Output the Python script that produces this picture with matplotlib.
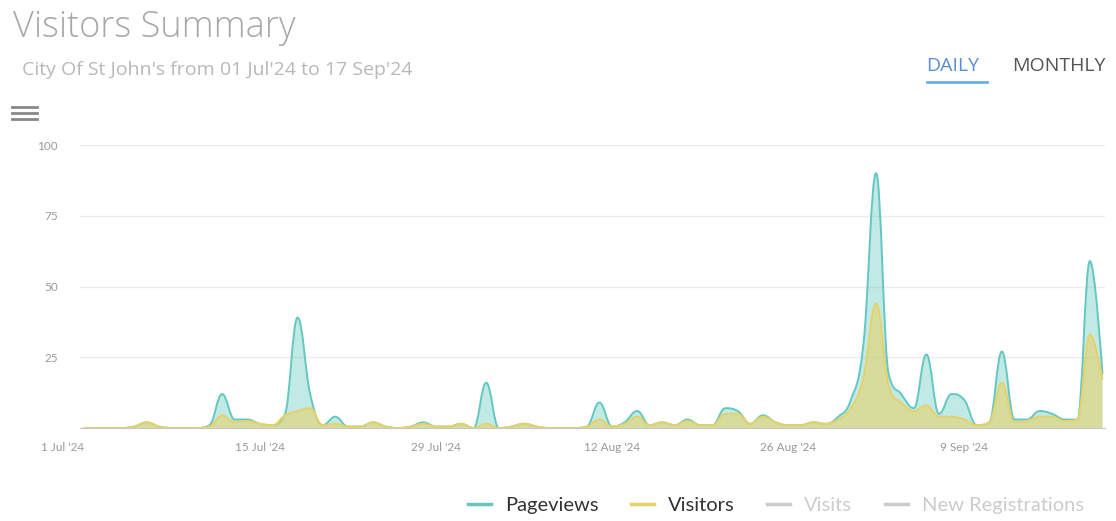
import numpy as np
import matplotlib
matplotlib.use('Agg')
import matplotlib.pyplot as plt
from matplotlib.path import Path
from matplotlib.patches import PathPatch
from matplotlib.lines import Line2D

# daily values, 1 Jul '24 .. 20 Sep '24
pageviews = [0, 0, 0, 0, 0.5, 2, 0.5, 0, 0, 0,
             1, 12, 3, 3, 1.5, 1, 5, 39, 12, 1,
             4, 0.5, 0.5, 2, 0.5, 0, 0.5, 2, 0.5, 0.5,
             1.5, 0, 16, 0, 0.5, 1.5, 0.5, 0, 0, 0,
             0.5, 9, 0.5, 2, 6, 1, 2, 1, 3, 1,
             1, 7, 6, 1.5, 4.5, 2, 1, 1, 2, 1.5,
             4, 10, 30, 90, 19, 12, 7, 26, 5, 12,
             10, 1, 2, 27, 3, 3, 6, 5, 3, 3,
             59, 19]
visitors = [0, 0, 0, 0, 0.5, 2, 0.5, 0, 0, 0,
            0.5, 4.5, 2, 2.5, 1.5, 1, 4.5, 6, 7, 1,
            1.5, 0.5, 0.5, 2, 0.5, 0, 0.5, 1.5, 0.5, 0.5,
            1.5, 0, 1.5, 0, 0.5, 1.5, 0.5, 0, 0, 0,
            0.5, 3, 0.5, 1.5, 4, 1, 2, 1, 2.5, 1,
            1, 5, 5, 1.5, 4, 2, 1, 1, 2, 1.5,
            3, 7, 18, 44, 15, 9, 6, 8, 4, 4,
            3, 1, 2, 16, 2, 2.5, 4, 4, 2.5, 3,
            33, 17]
tick_days = [0, 14, 28, 42, 56, 70]
tick_labels = ["1 Jul '24", "15 Jul '24", "29 Jul '24", "12 Aug '24", "26 Aug '24", "9 Sep '24"]
y_ticks = [25, 50, 75, 100]
legend_names = ['Pageviews', 'Visitors', 'Visits', 'New Registrations']

plt.rcParams['font.family'] = ['Lato', 'DejaVu Sans']


def spline_path(xs, ys, closed=False):
    # highcharts-like areaspline curve (smoothing 1.5)
    n = len(xs)
    sm, den = 1.5, 2.5
    lc = [None] * n
    rc = [None] * n
    for i in range(n):
        x, y = xs[i], ys[i]
        if i == 0 or i == n - 1:
            lc[i] = (x, y)
            rc[i] = (x, y)
            continue
        lx, ly = xs[i - 1], ys[i - 1]
        nx, ny = xs[i + 1], ys[i + 1]
        lcx = (sm * x + lx) / den
        lcy = (sm * y + ly) / den
        rcx = (sm * x + nx) / den
        rcy = (sm * y + ny) / den
        if rcx != lcx:
            corr = (rcy - lcy) * (rcx - x) / (rcx - lcx) + y - rcy
            lcy += corr
            rcy += corr
        if lcy > max(ly, y):
            lcy = max(ly, y); rcy = 2 * y - lcy
        elif lcy < min(ly, y):
            lcy = min(ly, y); rcy = 2 * y - lcy
        if rcy > max(ny, y):
            rcy = max(ny, y); lcy = 2 * y - rcy
        elif rcy < min(ny, y):
            rcy = min(ny, y); lcy = 2 * y - rcy
        lc[i] = (lcx, lcy)
        rc[i] = (rcx, rcy)
    verts = [(xs[0], ys[0])]
    codes = [Path.MOVETO]
    for i in range(1, n):
        verts += [rc[i - 1], lc[i], (xs[i], ys[i])]
        codes += [Path.CURVE4] * 3
    if closed:
        verts += [(xs[-1], 0), (xs[0], 0), (xs[0], ys[0])]
        codes += [Path.LINETO, Path.LINETO, Path.CLOSEPOLY]
    return Path(verts, codes)


fig = plt.figure(figsize=(11.16, 5.21), dpi=100)
ax = fig.add_axes([80 / 1116, 93 / 521, 1025 / 1116, 283 / 521])

days = np.arange(len(pageviews))
pv_col = '#64c8c0'
vis_col = '#e6d26a'
for vals, col, a in [(pageviews, pv_col, 0.4), (visitors, vis_col, 0.6)]:
    ax.add_patch(PathPatch(spline_path(days, vals, True), facecolor=col, alpha=a, lw=0))
    ax.add_patch(PathPatch(spline_path(days, vals), facecolor='none', edgecolor=col, lw=1.4))

ax.set_xlim(-0.3, 81.2)
ax.set_ylim(0, 100)
for s in ['top', 'right', 'left']:
    ax.spines[s].set_visible(False)
ax.spines['bottom'].set_color('#c8c8c8')
ax.set_yticks(y_ticks)
ax.set_yticklabels([str(v) for v in y_ticks])
ax.set_xticks(tick_days)
ax.set_xticklabels(tick_labels)
ax.get_xticklabels()[0].set_horizontalalignment('right')
ax.tick_params(length=0, labelsize=8.5, colors='#999999')
ax.tick_params(axis='y', pad=16)
ax.tick_params(axis='x', pad=10)
ax.grid(axis='y', color='#ececec', lw=1)
ax.set_axisbelow(True)

osans = ['Open Sans', 'DejaVu Sans']
fig.text(13 / 1116, 1 - 28 / 521, 'Visitors Summary', fontsize=26, color='#a8a8a8',
         family=osans, fontweight='light', va='center')
fig.text(22 / 1116, 1 - 70 / 521, "City Of St John's from 01 Jul'24 to 17 Sep'24",
         fontsize=14, color='#b8b8b8', family=osans, va='center')
fig.text(926 / 1116, 1 - 66 / 521, 'DAILY', fontsize=14, color='#5a8fd0', va='center',
         family=osans)
fig.text(1012 / 1116, 1 - 66 / 521, 'MONTHLY', fontsize=14, color='#555555', va='center',
         family=osans)
fig.add_artist(Line2D([927 / 1116, 987 / 1116], [1 - 82 / 521] * 2, color='#6ab0e8', lw=2))
for yy in [107, 113, 119]:
    fig.add_artist(Line2D([12 / 1116, 37 / 1116], [1 - yy / 521] * 2, color='#888888', lw=2))

handles = [Line2D([], [], color=pv_col, lw=2.5), Line2D([], [], color=vis_col, lw=2.5),
           Line2D([], [], color='#cccccc', lw=2.5), Line2D([], [], color='#cccccc', lw=2.5)]
leg = fig.legend(handles, legend_names, loc='center', bbox_to_anchor=(776 / 1116, 16 / 521),
                 ncol=4, frameon=False, fontsize=14.5, handlelength=1.15, handletextpad=0.7,
                 columnspacing=1.6)
for t, c in zip(leg.get_texts(), ['#333333', '#333333', '#cccccc', '#cccccc']):
    t.set_color(c)

fig.savefig('out.png', dpi=100)
